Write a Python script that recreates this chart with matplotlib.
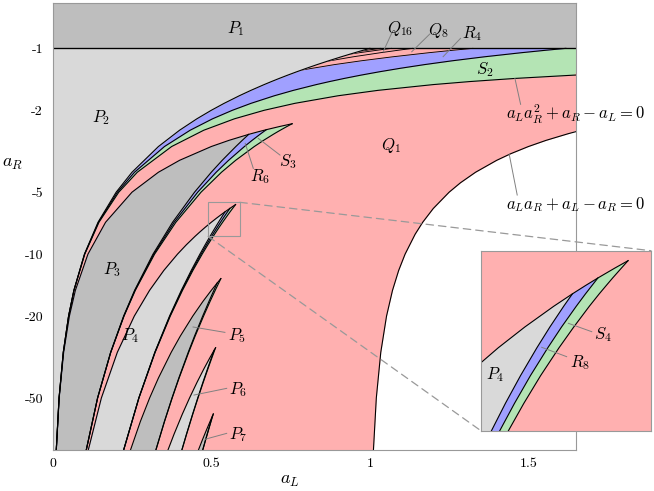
import matplotlib.pyplot as plt
import numpy as np
from matplotlib.patches import Rectangle, ConnectionPatch

plt.rcParams['mathtext.fontset'] = 'cm'

inf = np.inf
XMAX = 1.65

# values are b = -a_R (rows) and the a_L of each boundary at that b

# divergence boundary  a_L a_R + a_L - a_R = 0
b_div = [1.0, 1.5, 2.0, 2.5, 2.6, 2.8, 3.0, 3.25, 3.5, 4.0, 4.5, 5, 6, 7, 8, 10, 12, 15, 20, 30, 50, 90]
aL_div = [inf, 3.0, 2.0, 1.66667, 1.625, 1.55556, 1.5, 1.44444, 1.4, 1.33333, 1.28571, 1.25, 1.2,
          1.16667, 1.14286, 1.11111, 1.09091, 1.07143, 1.05263, 1.03448, 1.02041, 1.01124]

# period-2 family: P2 edge, S2/Q1 (a_L a_R^2 + a_R - a_L = 0), R4/S2
b_fam2 = [1.0, 1.02, 1.05, 1.1, 1.15, 1.2, 1.25, 1.3, 1.35, 1.4, 1.45, 1.5, 1.6, 1.7, 1.85, 2.0,
          2.2, 2.5, 3, 4, 5, 7, 10, 15, 20, 30, 50, 90]
aL_p2 = [1.0, 0.98039, 0.95238, 0.90909, 0.86957, 0.83333, 0.8, 0.76923, 0.74074, 0.71429, 0.68966,
         0.66667, 0.625, 0.58824, 0.54054, 0.5, 0.45455, 0.4, 0.33333, 0.25, 0.2, 0.14286, 0.1,
         0.066667, 0.05, 0.033333, 0.02, 0.011111]
aL_s2 = [inf, 25.25, 10.244, 5.2381, 3.5659, 2.7273, 2.2222, 1.8841, 1.6413, 1.4583, 1.3152, 1.2,
         1.0256, 0.8995, 0.7637, 0.66667, 0.57292, 0.47619, 0.375, 0.26667, 0.20833, 0.14583,
         0.10101, 0.066964, 0.050125, 0.033370, 0.020008, 0.011113]
aL_r4 = [1.618, 1.5589, 1.4777, 1.3593, 1.2584, 1.1715, 1.0960, 1.0298, 0.9713, 0.9194, 0.8729,
         0.8311, 0.7589, 0.6987, 0.6253, 0.5664, 0.5039, 0.4333, 0.35236, 0.25793, 0.20404,
         0.14432, 0.100501, 0.066815, 0.050063, 0.033352, 0.020004, 0.011112]

# cascade near a_R = -1: R4/Q8, Q8/Q16, Q16/Q32, Q32/Q64
b_q8 = [1.0, 1.02, 1.05, 1.1, 1.15, 1.2, 1.3]
aL_q8 = [1.3247, 1.2662, 1.1861, 1.0700, 0.9717, 0.8875, 0.7517]
b_q16 = [1.0, 1.02, 1.05, 1.1, 1.2]
aL_q16 = [1.1347, 1.0924, 1.0334, 0.9461, 0.8038]
b_q32 = [1.0, 1.02, 1.05, 1.1]
aL_q32 = [1.0683, 1.0258, 0.9668, 0.8795]
b_q64 = [1.0, 1.02, 1.05]
aL_q64 = [1.0328, 0.9931, 0.9379]

# period-3 family
b_fam3 = [2.3247, 2.4, 2.4845, 2.55, 2.618, 2.8, 3, 3.5, 4, 5, 7, 10, 15, 20, 30, 50, 90]
aL_e3 = [0.7549, 0.7143, 0.6736, 0.6452, 0.6180, 0.5556, 0.5, 0.4, 0.3333, 0.25, 0.16667, 0.11111,
         0.071429, 0.052632, 0.034483, 0.020408, 0.011236]
aL_p3 = [0.6559, 0.6455, 0.6344, 0.6262, 0.6180, 0.5976, 0.5774, 0.5345, 0.5, 0.4472, 0.3780, 0.3162,
         0.2582, 0.2236, 0.1826, 0.1414, 0.1054]
aL_r6 = [0.7005, 0.6874, 0.6736, 0.66345, 0.6534, 0.6287, 0.60445, 0.55455, 0.5154, 0.4571, 0.3830,
         0.31871, 0.25931, 0.22423, 0.18285, 0.14152, 0.10544]
aL_s3 = [0.7549, 0.7381, 0.7206, 0.7078, 0.6953, 0.6648, 0.6356, 0.5769, 0.5322, 0.4677, 0.3883,
         0.32127, 0.26043, 0.22486, 0.18313, 0.14162, 0.10547]

# period-4 family
b_fam4 = [5.7435, 5.85, 5.9935, 6.1, 6.2223, 6.4, 6.7, 7.0, 7.4, 7.8, 8.2, 9, 10, 12, 15, 20, 30, 50, 90]
aL_e4 = [0.57650, 0.56873, 0.55870, 0.55157, 0.54369, 0.53277, 0.51566, 0.5, 0.48105, 0.46400,
         0.44854, 0.42153, 0.39349, 0.35037, 0.30535, 0.25723, 0.20373, 0.15342, 0.11177]
aL_p4 = [0.55838, 0.55498, 0.55051, 0.54729, 0.54369, 0.53859, 0.53043, 0.52276, 0.51316, 0.50424,
         0.49592, 0.48075, 0.46416, 0.43679, 0.40548, 0.36840, 0.32183, 0.27144, 0.22313]
aL_r8 = [0.5672, 0.5636, 0.5587, 0.5553, 0.5514, 0.5460, 0.5373, 0.5292, 0.5190, 0.5096, 0.5008,
         0.4850, 0.4677, 0.4394, 0.4073, 0.3695, 0.3224, 0.2717, 0.2232]
aL_s4 = [0.5765, 0.5726, 0.5674, 0.5637, 0.5595, 0.5537, 0.5445, 0.5358, 0.5250, 0.5151, 0.5059,
         0.4893, 0.4714, 0.4421, 0.4092, 0.3707, 0.3230, 0.2719, 0.2233]

# period-5, 6, 7 families
b_fam5 = [13.153, 13.805, 15, 17, 20, 25, 30, 40, 50, 65, 90]
aL_e5 = [0.5302, 0.51879, 0.5, 0.47342, 0.44164, 0.40246, 0.37369, 0.33333, 0.30564, 0.27650, 0.24474]
aL_p5 = [0.52512, 0.51879, 0.50813, 0.49248, 0.47287, 0.44721, 0.42729, 0.39764, 0.37606, 0.35218, 0.32467]
aL_s5 = [0.5302, 0.5237, 0.5124, 0.4960, 0.4757, 0.4492, 0.4288, 0.3986, 0.3768, 0.3527, 0.3250]

b_fam6 = [28.51, 29.37, 32, 36, 42, 50, 60, 75, 90]
aL_e6 = [0.5135, 0.50866, 0.49502, 0.47708, 0.45492, 0.43146, 0.40853, 0.38256, 0.36282]
aL_p6 = [0.51169, 0.50866, 0.5, 0.48835, 0.47353, 0.45731, 0.44094, 0.42169, 0.40659]
aL_s6 = [0.5135, 0.5104, 0.5016, 0.4897, 0.4746, 0.4581, 0.4416, 0.4222, 0.4070]

b_fam7 = [59.81, 60.91, 65, 72, 80, 90]
aL_e7 = [0.5064, 0.50414, 0.49620, 0.48405, 0.47192, 0.45887]
aL_p7 = [0.50565, 0.50414, 0.49871, 0.49027, 0.48174, 0.47238]
aL_s7 = [0.5064, 0.5048, 0.4993, 0.4908, 0.4822, 0.4728]

PINK = '#ffb0b0'
BLUE = '#a0a0ff'
GREEN = '#b4e4b4'
DARK = '#bebebe'
LIGHT = '#d9d9d9'

families = [
    (b_fam3, aL_e3, [(aL_s3, GREEN), (aL_r6, BLUE)], aL_p3, DARK),
    (b_fam4, aL_e4, [(aL_s4, GREEN), (aL_r8, BLUE)], aL_p4, LIGHT),
    (b_fam5, aL_e5, [(aL_s5, GREEN)], aL_p5, DARK),
    (b_fam6, aL_e6, [(aL_s6, GREEN)], aL_p6, LIGHT),
    (b_fam7, aL_e7, [(aL_s7, GREEN)], aL_p7, DARK),
]


def draw_regions(a, lw=0.8):
    a.fill_betweenx(b_div, 0, np.minimum(aL_div, XMAX), color=PINK, lw=0, zorder=1)
    a.axhspan(0.1, 1, color=DARK, lw=0, zorder=1)

    a.fill_betweenx(b_fam2, 0, np.minimum(aL_s2, XMAX), color=GREEN, lw=0, zorder=1)
    a.fill_betweenx(b_fam2, 0, aL_r4, color=BLUE, lw=0, zorder=1)
    a.fill_betweenx(b_q8, 0, aL_q8, color=PINK, lw=0, zorder=1)
    for bb, aa in [(b_q8, aL_q8), (b_q16, aL_q16), (b_q32, aL_q32), (b_q64, aL_q64)]:
        a.plot(aa, bb, color='k', lw=lw * 0.8, zorder=1.5)
    a.fill_betweenx(b_fam2, 0, aL_p2, color=LIGHT, lw=0, zorder=1.6)
    a.plot(aL_p2, b_fam2, color='k', lw=lw, zorder=2)
    a.plot(aL_s2[1:], b_fam2[1:], color='k', lw=lw, zorder=2)
    a.plot(aL_r4, b_fam2, color='k', lw=lw, zorder=2)
    a.plot(aL_div[1:], b_div[1:], color='k', lw=lw, zorder=2)
    a.axhline(1, color='k', lw=lw * 1.2, zorder=2)

    for B, E, bands, P, gray in families:
        B = np.array(B)
        E = np.array(E)
        P = np.array(P)
        for c, col in bands:
            c = np.array(c)
            a.fill_betweenx(B, E, c, where=c >= E, interpolate=True, color=col, lw=0, zorder=1)
        a.fill_betweenx(B, E, P, where=P >= E, interpolate=True, color=gray, lw=0, zorder=1)
        a.plot(E, B, color='k', lw=lw, zorder=2)
        for c in [P] + [np.array(c) for c, _ in bands]:
            a.plot(np.where(c >= E - 1e-9, c, np.nan), B, color='k', lw=lw, zorder=2)


fig = plt.figure(figsize=(6.54, 4.91), dpi=100)
ax = fig.add_axes([0.0806, 0.0825, 0.8001, 0.912])
draw_regions(ax)
ax.set_xlim(0, XMAX)
ax.set_yscale('log')
ax.set_ylim(90, 0.6)
ax.set_xticks([0, 0.5, 1, 1.5])
ax.set_xticklabels(['0', '0.5', '1', '1.5'], fontfamily='cmr10', fontsize=10)
ax.set_yticks([1, 2, 5, 10, 20, 50])
ax.set_yticklabels(['-1', '-2', '-5', '-10', '-20', '-50'], fontfamily='cmr10', fontsize=10)
ax.minorticks_off()
ax.tick_params(length=0)
ax.tick_params(axis='y', pad=7)
ax.tick_params(axis='x', pad=5)
for s in ax.spines.values():
    s.set_color('0.6')
    s.set_linewidth(0.8)
ax.set_xlabel(r'$a_L$', fontsize=13)
ax.xaxis.set_label_coords(0.4535, -0.066)
ax.xaxis.label.set_va('center')
ax.set_ylabel(r'$a_R$', fontsize=13, rotation=0)
ax.yaxis.set_label_coords(-0.0768, 0.642)
ax.yaxis.label.set_va('center')
ax.yaxis.label.set_ha('center')

labels = [
    (r'$P_1$', 0.578, 0.806), (r'$P_2$', 0.152, 2.18), (r'$Q_1$', 1.067, 2.95),
    (r'$P_3$', 0.187, 11.95), (r'$P_4$', 0.244, 25.0), (r'$S_2$', 1.363, 1.275),
    (r'$R_6$', 0.654, 4.22), (r'$S_3$', 0.742, 3.57), (r'$Q_{16}$', 1.095, 0.797),
    (r'$Q_8$', 1.215, 0.815), (r'$R_4$', 1.322, 0.843), (r'$P_5$', 0.581, 25.0),
    (r'$P_6$', 0.584, 45.7), (r'$P_7$', 0.584, 75.7),
    (r'$a_La_R^2+a_R-a_L=0$', 1.65, 2.092), (r'$a_La_R+a_L-a_R=0$', 1.65, 5.77),
]
for txt, x, y in labels:
    ax.text(x, y, txt, fontsize=12, ha='center', va='center', zorder=5)

pointers = [
    ((1.042, 1.039), (1.069, 0.843)), ((1.132, 1.039), (1.189, 0.852)),
    ((1.231, 1.098), (1.286, 0.894)), ((1.4575, 1.40), (1.4754, 1.871)),
    ((1.4395, 3.274), (1.4647, 5.162)), ((0.607, 2.894), (0.6325, 3.83)),
    ((0.648, 2.737), (0.7166, 3.30)), ((0.4425, 22.6), (0.543, 24.0)),
    ((0.4455, 48.4), (0.5486, 44.9)), ((0.480, 79.4), (0.5486, 74.3)),
]
for (x0, y0), (x1, y1) in pointers:
    ax.plot([x0, x1], [y0, y1], color='0.5', lw=0.7, zorder=4)

# zoom box and inset
ax.add_patch(Rectangle((0.49, 5.6), 0.1, 2.6, fill=False, ec='0.6', lw=0.8, zorder=4))

axins = fig.add_axes([0.7359, 0.1222, 0.2595, 0.3672])
draw_regions(axins)
axins.set_xlim(0.49, 0.59)
axins.set_ylim(8.2, 5.6)
axins.set_xticks([])
axins.set_yticks([])
for s in axins.spines.values():
    s.set_color('0.6')
    s.set_linewidth(0.8)
for txt, x, y in [(r'$P_4$', 0.4981, 7.392), (r'$S_4$', 0.5619, 6.816), (r'$R_8$', 0.5481, 7.215)]:
    axins.text(x, y, txt, fontsize=12, ha='center', va='center', zorder=5)
for (x0, y0), (x1, y1) in [((0.5413, 6.647), (0.5551, 6.768)), ((0.5256, 6.993), (0.5403, 7.128))]:
    axins.plot([x0, x1], [y0, y1], color='0.5', lw=0.7, zorder=4)

for xyA, xyB in [((0.59, 5.6), (1, 1)), ((0.49, 8.2), (0, 0))]:
    con = ConnectionPatch(xyA=xyA, coordsA=ax.transData, xyB=xyB, coordsB=axins.transAxes,
                          color='0.6', ls=(0, (6, 4)), lw=0.9)
    fig.add_artist(con)

fig.savefig('out.png', dpi=100)
